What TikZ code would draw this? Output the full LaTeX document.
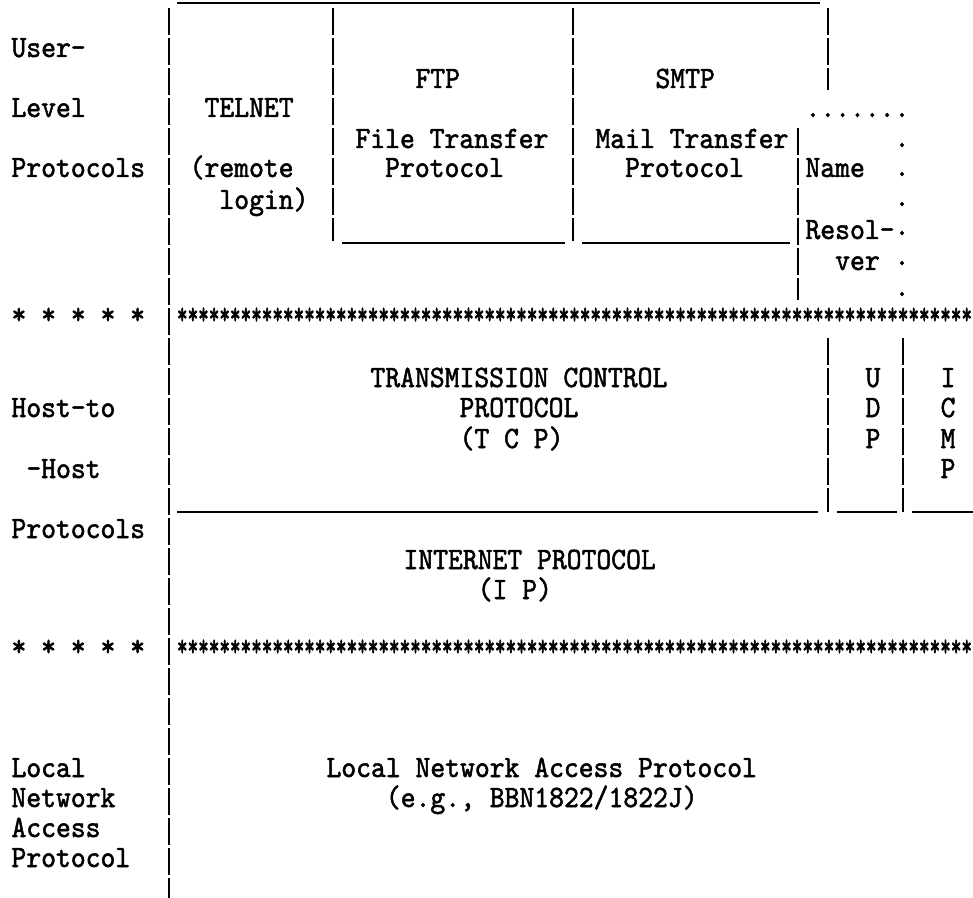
\documentclass[tikz,border=0pt]{standalone}
\usepackage{fontspec}
\newfontfamily\tw[Extension=.otf,FakeStretch=0.91,FakeBold=1.6]{lmmono10-regular}
\newfontfamily\twst[Extension=.otf,FakeStretch=0.65,FakeBold=1.8]{lmmono10-regular}
\begin{document}
\begin{tikzpicture}[x=0.75pt,y=-0.75pt,
  txt/.style={anchor=base west,inner sep=0pt,outer sep=0pt,font=\tw\fontsize{23.3}{24}\selectfont},
  stg/.style={anchor=base west,inner sep=0pt,outer sep=0pt,font=\twst\fontsize{23.3}{24}\selectfont},
  vbar/.style={line width=1.6pt,dash pattern=on 20pt off 2.5pt},
  hrule/.style={line width=1.7pt}]
\useasboundingbox (0,0) rectangle (973,898);
% left column labels
\node[txt] (ul) at (11.5,57) {User-};
\node[txt] (lv) at (11.5,117) {Level};
\node[txt] (pr1) at (11.5,177) {Protocols};
\node[txt] (st1) at (11.5,324) {* * * * *};
\node[txt] (hh1) at (11.5,417) {Host-to};
\node[txt] (hh2) at (26.4,478) {-Host};
\node[txt] (pr2) at (11.5,538) {Protocols};
\node[txt] (st2) at (11.5,656) {* * * * *};
\node[txt] (lo1) at (11.5,777) {Local};
\node[txt] (lo2) at (11.5,807) {Network};
\node[txt] (lo3) at (11.5,837) {Access};
\node[txt] (lo4) at (11.5,867) {Protocol};
% user level protocols
\node[txt] (tel1) at (204.6,117) {TELNET};
\node[txt] (tel2) at (189.7,177) {(remote};
\node[txt] (tel3) at (219.4,209) {login)};
\node[txt] (ftp1) at (415.5,88) {FTP};
\node[txt] (ftp2) at (355.5,148) {File Transfer};
\node[txt] (ftp3) at (385.2,177) {Protocol};
\node[txt] (smtp1) at (655.5,88) {SMTP};
\node[txt] (smtp2) at (595.5,148) {Mail Transfer};
\node[txt] (smtp3) at (625.2,177) {Protocol};
\node[txt] (nm1) at (805.5,177) {Name};
\node[txt] (nm2) at (805.5,239) {Resol-};
\node[txt] (nm3) at (835.2,270) {ver};
\node[txt] (dots) at (805.5,117) {.......};
\foreach \yy [count=\k] in {147,176,206,235,265,296}
  \node[txt] (vd\k) at (894.6,\yy) {.};
% host-to-host
\node[txt] (tcp1) at (370.5,387) {TRANSMISSION CONTROL};
\node[txt] (tcp2) at (459.6,417) {PROTOCOL};
\node[txt] (tcp3) at (459.6,448) {(T C P)};
\node[txt] (udp1) at (865.6,387) {U};
\node[txt] (udp2) at (865.6,417) {D};
\node[txt] (udp3) at (865.6,448) {P};
\node[txt] (icmp1) at (940.6,387) {I};
\node[txt] (icmp2) at (940.6,417) {C};
\node[txt] (icmp3) at (940.6,448) {M};
\node[txt] (icmp4) at (940.6,478) {P};
\node[txt] (ip1) at (403.5,569) {INTERNET PROTOCOL};
\node[txt] (ip2) at (477.75,599) {(I P)};
% local network
\node[txt] (lna1) at (326.5,777) {Local Network Access Protocol};
\node[txt] (lna2) at (385.9,807) {(e.g., BBN1822/1822J)};
% star rows
\foreach \i in {0,...,74} {
  \node[stg] (sa\i) at ({177+\i*10.6},324) {*};
  \node[stg] (sb\i) at ({177+\i*10.6},656) {*};
}
% vertical bars
\draw[vbar] (169,8) -- (169,898);
\draw[vbar] (333,8) -- (333,241);
\draw[vbar] (573,8) -- (573,241);
\draw[vbar] (828,8) -- (828,90);
\draw[vbar] (798,128) -- (798,300);
\draw[vbar] (828,338) -- (828,512);
\draw[vbar] (903,338) -- (903,512);
% horizontal rules
\draw[hrule] (177,3) -- (820,3);
\draw[hrule] (342,243) -- (565,243);
\draw[hrule] (582,243) -- (790,243);
\draw[hrule] (177,512) -- (818,512);
\draw[hrule] (837,512) -- (897,512);
\draw[hrule] (912,512) -- (973,512);
\end{tikzpicture}
\end{document}
